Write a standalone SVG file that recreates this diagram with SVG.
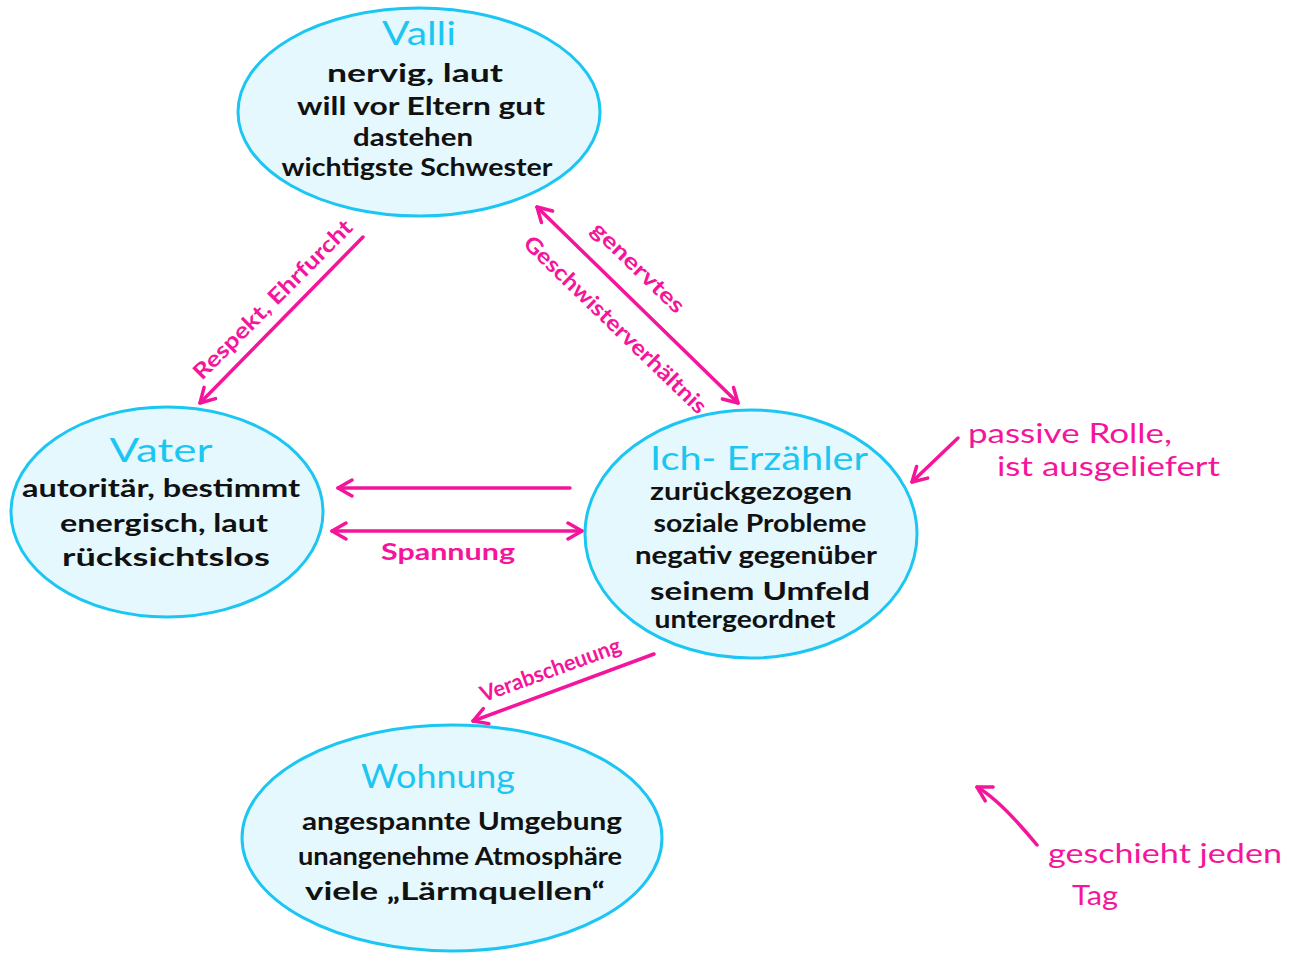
<svg xmlns="http://www.w3.org/2000/svg" width="1297" height="955" viewBox="0 0 1297 955">
<defs>
<style>
.node{fill:#e5f8fd;stroke:#1cc6f2;stroke-width:3}
.title{fill:#1cc6f2;font-family:"Lato","Liberation Sans",sans-serif;font-size:32px;text-anchor:middle}
.body{fill:#111;font-family:"Lato","Liberation Sans",sans-serif;font-size:25px;text-anchor:middle;font-weight:bold}
.lbl{fill:#f5159b;font-family:"Lato","Liberation Sans",sans-serif;font-size:22px;text-anchor:middle;font-weight:bold}
.note{fill:#f5159b;font-family:"Lato","Liberation Sans",sans-serif;font-size:27px}
.edge{fill:none;stroke:#f5159b;stroke-width:3.5;stroke-linecap:round}
</style>
<marker id="ah" viewBox="0 0 20 20" refX="18" refY="10" markerWidth="20" markerHeight="20" markerUnits="userSpaceOnUse" orient="auto-start-reverse">
<path d="M4,2 L18,10 L4,18" fill="none" stroke="#f5159b" stroke-width="3.5" stroke-linecap="round" stroke-linejoin="round"/>
</marker>
</defs>
<rect width="1297" height="955" fill="#fff"/>
<g id="connectors">
<line class="edge" x1="363" y1="237" x2="200" y2="403" marker-end="url(#ah)"/>
<line class="edge" x1="537" y1="207" x2="738" y2="403" marker-start="url(#ah)" marker-end="url(#ah)"/>
<line class="edge" x1="570" y1="488" x2="338" y2="488" marker-end="url(#ah)"/>
<line class="edge" x1="332" y1="531" x2="582" y2="531" marker-start="url(#ah)" marker-end="url(#ah)"/>
<line class="edge" x1="654" y1="654" x2="473" y2="721" marker-end="url(#ah)"/>
<line class="edge" x1="958" y1="438" x2="912" y2="482" marker-end="url(#ah)"/>
<path class="edge" d="M1037,845 Q1000,800 977,787" marker-end="url(#ah)"/>
<text class="lbl" transform="translate(278,305) rotate(-45)" textLength="215" lengthAdjust="spacingAndGlyphs" font-size="20">Respekt, Ehrfurcht</text>
<text class="lbl" transform="translate(633,273) rotate(44)" textLength="120" lengthAdjust="spacingAndGlyphs">genervtes</text>
<text class="lbl" transform="translate(610,330) rotate(44)" textLength="245" lengthAdjust="spacingAndGlyphs" font-size="20">Geschwisterverhältnis</text>
<text class="lbl" x="448" y="560" textLength="134" lengthAdjust="spacingAndGlyphs" font-size="26">Spannung</text>
<text class="lbl" transform="translate(553,677) rotate(-20)" textLength="148" lengthAdjust="spacingAndGlyphs" font-size="19">Verabscheuung</text>
</g>
<g id="valli">
<ellipse class="node" cx="419" cy="112" rx="181" ry="104"/>
<text class="title" x="419" y="45" textLength="74" lengthAdjust="spacingAndGlyphs">Valli</text>
<text class="body" x="415" y="82" textLength="176" lengthAdjust="spacingAndGlyphs">nervig, laut</text>
<text class="body" x="421" y="115" textLength="248" lengthAdjust="spacingAndGlyphs">will vor Eltern gut</text>
<text class="body" x="413" y="146" textLength="120" lengthAdjust="spacingAndGlyphs">dastehen</text>
<text class="body" x="417" y="176" textLength="271" lengthAdjust="spacingAndGlyphs">wichtigste Schwester</text>
</g>
<g id="vater">
<ellipse class="node" cx="167" cy="512" rx="156" ry="105"/>
<text class="title" x="161" y="462" font-size="40" textLength="103" lengthAdjust="spacingAndGlyphs">Vater</text>
<text class="body" x="161" y="497" textLength="278" lengthAdjust="spacingAndGlyphs">autoritär, bestimmt</text>
<text class="body" x="164" y="532" textLength="208" lengthAdjust="spacingAndGlyphs">energisch, laut</text>
<text class="body" x="166" y="566" textLength="208" lengthAdjust="spacingAndGlyphs">rücksichtslos</text>
</g>
<g id="ich">
<ellipse class="node" cx="751" cy="534" rx="166" ry="124"/>
<text class="title" x="759" y="470" textLength="218" lengthAdjust="spacingAndGlyphs">Ich- Erzähler</text>
<text class="body" x="751" y="500" textLength="202" lengthAdjust="spacingAndGlyphs">zurückgezogen</text>
<text class="body" x="760" y="532" textLength="213" lengthAdjust="spacingAndGlyphs">soziale Probleme</text>
<text class="body" x="756" y="564" textLength="242" lengthAdjust="spacingAndGlyphs">negativ gegenüber</text>
<text class="body" x="760" y="600" textLength="220" lengthAdjust="spacingAndGlyphs">seinem Umfeld</text>
<text class="body" x="745" y="628" textLength="181" lengthAdjust="spacingAndGlyphs">untergeordnet</text>
</g>
<g id="wohnung">
<ellipse class="node" cx="452" cy="838" rx="210" ry="113"/>
<text class="title" x="438" y="788" font-size="36" textLength="154" lengthAdjust="spacingAndGlyphs">Wohnung</text>
<text class="body" x="462" y="830" textLength="320" lengthAdjust="spacingAndGlyphs">angespannte Umgebung</text>
<text class="body" x="460" y="865" textLength="324" lengthAdjust="spacingAndGlyphs">unangenehme Atmosphäre</text>
<text class="body" x="455" y="900" textLength="300" lengthAdjust="spacingAndGlyphs">viele „Lärmquellen“</text>
</g>
<g id="note-passiv">
<text class="note" x="968" y="443" textLength="204" lengthAdjust="spacingAndGlyphs">passive Rolle,</text>
<text class="note" x="997" y="476" textLength="223" lengthAdjust="spacingAndGlyphs">ist ausgeliefert</text>
</g>
<g id="note-tag">
<text class="note" x="1048" y="863" font-size="31" textLength="234" lengthAdjust="spacingAndGlyphs">geschieht jeden</text>
<text class="note" x="1072" y="905" font-size="31" textLength="46" lengthAdjust="spacingAndGlyphs">Tag</text>
</g>
</svg>
